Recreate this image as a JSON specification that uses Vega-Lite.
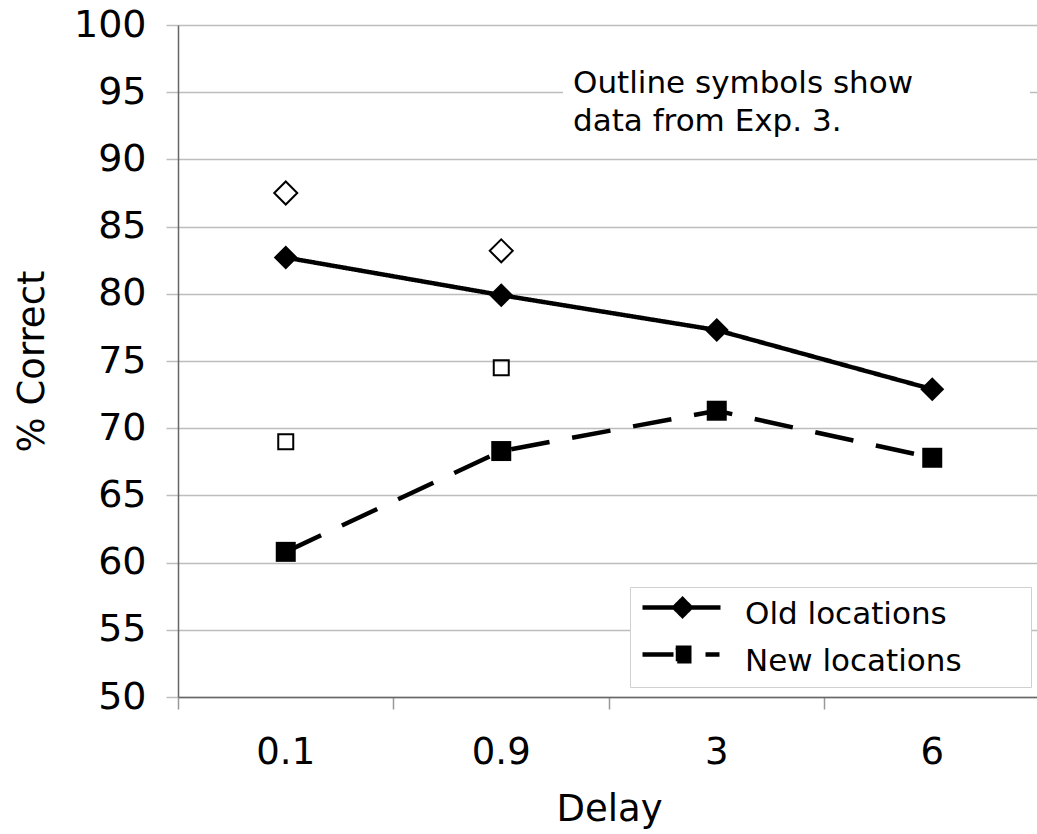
{
  "$schema": "https://vega.github.io/schema/vega-lite/v6.json",
  "width": 859,
  "height": 672,
  "autosize": {"type": "none"},
  "padding": {"left": 178, "top": 25, "right": 0, "bottom": 137},
  "background": "white",
  "config": {"font": "DejaVu Sans", "view": {"stroke": null}},
  "data": {
    "values": [
      {"delay": "0.1", "series": "Old locations", "source": "Current", "pct": 82.7},
      {"delay": "0.9", "series": "Old locations", "source": "Current", "pct": 79.9},
      {"delay": "3", "series": "Old locations", "source": "Current", "pct": 77.3},
      {"delay": "6", "series": "Old locations", "source": "Current", "pct": 72.9},
      {"delay": "0.1", "series": "New locations", "source": "Current", "pct": 60.8},
      {"delay": "0.9", "series": "New locations", "source": "Current", "pct": 68.3},
      {"delay": "3", "series": "New locations", "source": "Current", "pct": 71.3},
      {"delay": "6", "series": "New locations", "source": "Current", "pct": 67.8},
      {"delay": "0.1", "series": "Old locations", "source": "Exp. 3", "pct": 87.5},
      {"delay": "0.9", "series": "Old locations", "source": "Exp. 3", "pct": 83.2},
      {"delay": "0.1", "series": "New locations", "source": "Exp. 3", "pct": 69.0},
      {"delay": "0.9", "series": "New locations", "source": "Exp. 3", "pct": 74.5}
    ]
  },
  "encoding": {
    "x": {
      "field": "delay",
      "type": "nominal",
      "scale": {"type": "band", "domain": ["0.1", "0.9", "3", "6"], "range": [0, 862], "paddingInner": 0, "paddingOuter": 0},
      "axis": {
        "bandPosition": 0,
        "grid": false,
        "domainColor": "#666666",
        "domainWidth": 1.5,
        "tickColor": "#999999",
        "tickWidth": 1.5,
        "tickSize": 12,
        "labelAngle": 0,
        "labelFont": "DejaVu Sans",
        "labelFontSize": 37,
        "labelColor": "black",
        "labelPadding": 25,
        "title": "Delay",
        "titleFont": "DejaVu Sans",
        "titleFontSize": 37,
        "titleFontWeight": "normal",
        "titleColor": "black",
        "titlePadding": 21
      }
    },
    "y": {
      "field": "pct",
      "type": "quantitative",
      "scale": {"domain": [50, 100], "nice": false, "zero": false},
      "axis": {
        "values": [50, 55, 60, 65, 70, 75, 80, 85, 90, 95, 100],
        "grid": true,
        "gridColor": "#bdbdbd",
        "gridWidth": 1.5,
        "domainColor": "#666666",
        "domainWidth": 1.5,
        "tickColor": "#bdbdbd",
        "tickWidth": 1.5,
        "tickSize": 12,
        "labelFont": "DejaVu Sans",
        "labelFontSize": 38,
        "labelColor": "black",
        "labelPadding": 20,
        "title": "% Correct",
        "titleFont": "DejaVu Sans",
        "titleFontSize": 37,
        "titleFontWeight": "normal",
        "titleColor": "black",
        "titlePadding": 22
      }
    }
  },
  "layer": [
    {
      "transform": [{"filter": "datum.source === 'Current'"}],
      "mark": {"type": "line", "strokeWidth": 4.5, "strokeCap": "butt"},
      "encoding": {
        "color": {
          "field": "series",
          "type": "nominal",
          "scale": {"domain": ["Old locations", "New locations"], "range": ["black", "black"]},
          "legend": {
            "title": null,
            "orient": "none",
            "legendX": 452,
            "legendY": 562,
            "padding": 10,
            "fillColor": "white",
            "strokeColor": "#d0d0d0",
            "labelFont": "DejaVu Sans",
            "labelFontSize": 31,
            "labelColor": "black",
            "labelOffset": 70,
            "labelLimit": 600,
            "labelExpr": "datum.label + '\u00a0\u00a0\u00a0\u00a0\u00a0\u00a0\u200b'",
            "rowPadding": 8,
            "symbolSize": 900,
            "symbolFillColor": "black",
            "symbolStrokeColor": "black",
            "symbolStrokeWidth": 4.5,
            "symbolDash": [],
            "encode": {
              "symbols": {
                "update": {
                  "fill": {"value": "black"},
                  "shape": {"signal": "datum.value === 'Old locations' ? 'M-1,-0.467H4.2M1.667,-1.017L2.217,-0.467L1.667,0.083L1.117,-0.467Z' : 'M-1,-0.467H1.067M1.217,-0.917H2.117V-0.017H1.217ZM3.2,-0.467H4.133'"}
                }
              }
            }
          }
        },
        "strokeDash": {
          "field": "series",
          "type": "nominal",
          "scale": {"domain": ["Old locations", "New locations"], "range": [[1, 0], [39, 23]]},
          "legend": null
        }
      }
    },
    {
      "transform": [{"filter": "datum.source === 'Current' && datum.series === 'Old locations'"}],
      "mark": {"type": "point", "filled": true, "opacity": 1, "color": "black", "shape": "diamond", "size": 576}
    },
    {
      "transform": [{"filter": "datum.source === 'Current' && datum.series === 'New locations'"}],
      "mark": {"type": "point", "filled": true, "opacity": 1, "color": "black", "shape": "square", "size": 400}
    },
    {
      "transform": [{"filter": "datum.source === 'Exp. 3' && datum.series === 'Old locations'"}],
      "mark": {"type": "point", "filled": false, "opacity": 1, "color": "black", "shape": "diamond", "size": 529},
      "encoding": {
        "strokeWidth": {
          "field": "source",
          "type": "ordinal",
          "scale": {"domain": ["Exp. 3"], "range": [2, 2]},
          "legend": {
            "title": ["Outline symbols show", "data from Exp. 3."],
            "orient": "none",
            "legendX": 385,
            "legendY": 34,
            "padding": 10,
            "fillColor": "white",
            "titleFont": "DejaVu Sans",
            "titleFontSize": 31,
            "titleFontWeight": "normal",
            "titleColor": "black",
            "titleLineHeight": 38,
            "titleLimit": 700,
            "titlePadding": 0,
            "labelFontSize": 1,
            "labelOpacity": 0,
            "symbolOpacity": 0,
            "symbolSize": 1,
            "labelOffset": 440,
            "rowPadding": 0
          }
        }
      }
    },
    {
      "transform": [{"filter": "datum.source === 'Exp. 3' && datum.series === 'New locations'"}],
      "mark": {"type": "point", "filled": false, "opacity": 1, "color": "black", "shape": "square", "size": 225, "strokeWidth": 2}
    }
  ]
}
